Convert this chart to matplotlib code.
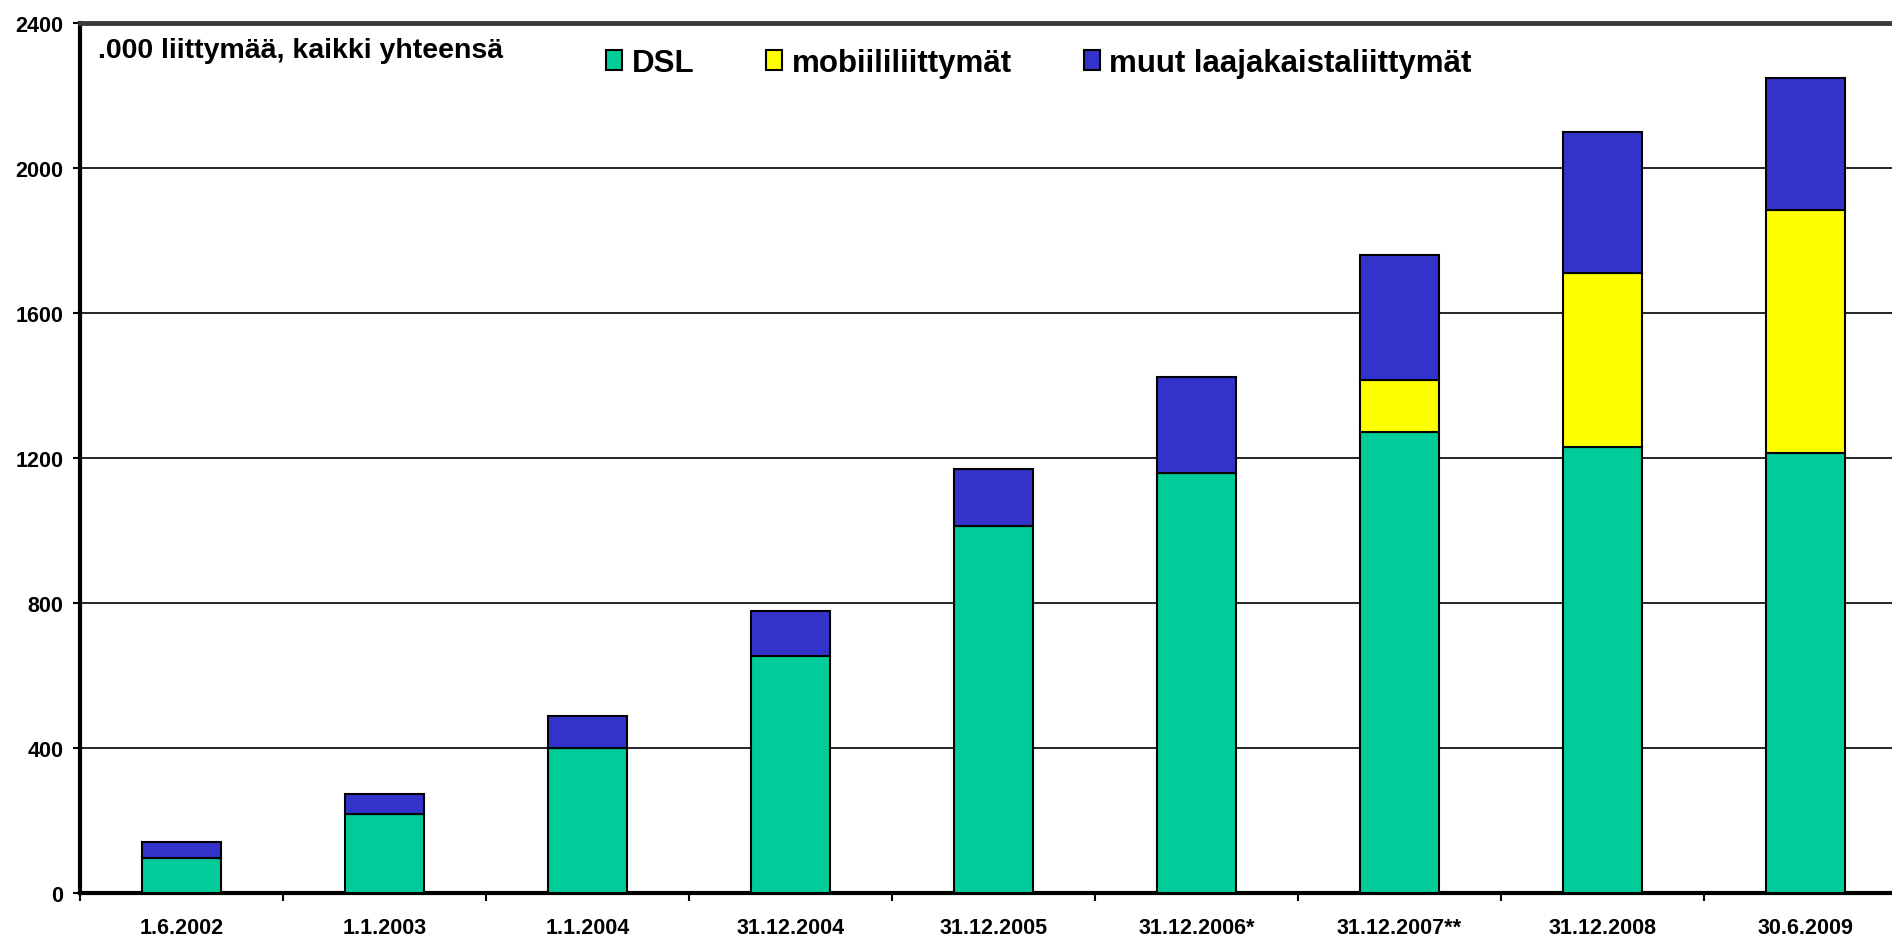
import matplotlib
matplotlib.use("Agg")
import numpy as np
from matplotlib import pyplot as plt

plt.rcParams["font.family"] = ["Liberation Sans", "DejaVu Sans"]
plt.rcParams["font.weight"] = "bold"

# data (thousands of connections)
dates = ["1.6.2002", "1.1.2003", "1.1.2004", "31.12.2004", "31.12.2005",
         "31.12.2006*", "31.12.2007**", "31.12.2008", "30.6.2009"]
dsl = [97, 218, 400, 655, 1013, 1159, 1271, 1230, 1213]
mobile = [0, 0, 0, 0, 0, 0, 143, 479, 670]
other = [44, 54, 88, 122, 156, 265, 345, 389, 364]
yticks = [0, 400, 800, 1200, 1600, 2000, 2400]

fig = plt.figure(figsize=(18.92, 9.37), dpi=100)
ax = fig.add_axes([80 / 1892, 1 - 894 / 937, 1827 / 1892, 870 / 937])

x = np.arange(len(dates))
w = 0.39
ax.bar(x, dsl, w, color="#00CC99", edgecolor="black", linewidth=1.5,
       label="DSL", zorder=3)
ax.bar(x, mobile, w, bottom=dsl, color="#FFFF00", edgecolor="black",
       linewidth=1.5, label="mobiililiittymät", zorder=3)
base = np.array(dsl) + np.array(mobile)
ax.bar(x, other, w, bottom=base, color="#3333CC", edgecolor="black",
       linewidth=1.5, label="muut laajakaistaliittymät", zorder=3)

ax.set_xlim(-0.5, len(dates) - 0.5)
ax.set_ylim(0, 2400)
ax.set_yticks(yticks)
ax.set_yticklabels([str(v) for v in yticks], fontsize=15.5, fontweight="bold")
ax.set_xticks(x)
ax.set_xticklabels(dates, fontsize=15.5, fontweight="bold")
ax.tick_params(axis="x", which="major", length=0, pad=17)
ax.set_xticks(np.arange(len(dates) + 1) - 0.5, minor=True)
ax.tick_params(axis="x", which="minor", length=6, width=1.5, direction="out")
ax.tick_params(axis="y", length=5, width=1.5, pad=7)

ax.grid(axis="y", color="black", linewidth=1.2, zorder=0)
ax.set_axisbelow(True)

for side in ["left", "bottom"]:
    ax.spines[side].set_linewidth(3)
    ax.spines[side].set_color("black")
ax.spines["top"].set_linewidth(3.5)
ax.spines["top"].set_color("#3a3a3a")
ax.spines["right"].set_visible(False)

fig.text(98 / 1892, 1 - 58 / 937, ".000 liittymää, kaikki yhteensä",
         fontsize=20.5, fontweight="bold", va="baseline")

leg = fig.legend(loc="center left", bbox_to_anchor=(606 / 1892, 1 - 64 / 937),
                 ncol=3, frameon=False, prop={"size": 22.5, "weight": "bold"},
                 handlelength=0.52, handleheight=0.6, handletextpad=0.3,
                 columnspacing=2.3, borderaxespad=0, borderpad=0)
for p in leg.get_patches():
    p.set_linewidth(1.5)

fig.savefig("out.png", dpi=100)
